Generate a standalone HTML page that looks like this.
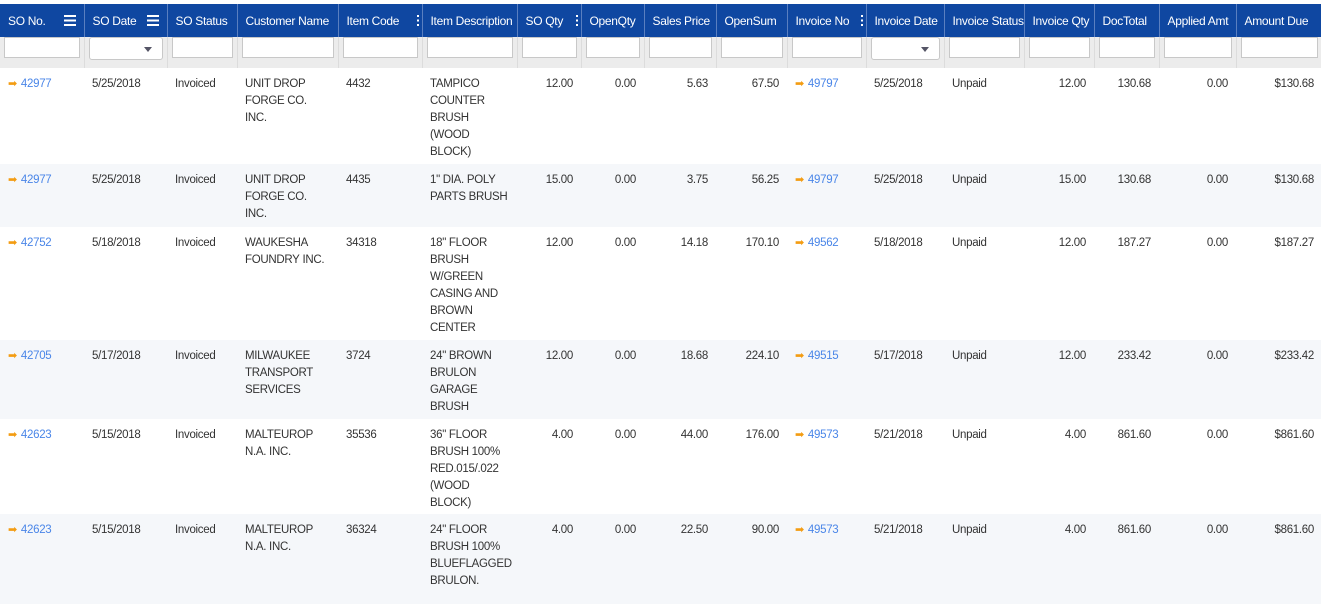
<!DOCTYPE html>
<html><head><meta charset="utf-8"><style>
body{margin:0;width:1321px;height:593px;overflow:hidden;background:#fff;font-family:"Liberation Sans",sans-serif;font-size:12px;color:#333}
table{border-collapse:collapse;table-layout:fixed;position:absolute;left:0;top:4px;width:1321px}
th{background:#0f47a1;color:#fff;font-weight:normal;height:33px;padding:0 0 0 8px;text-align:left;border-right:1px solid #5a7fc0;white-space:nowrap;overflow:hidden;position:relative;font-size:12px;letter-spacing:-0.3px}
th .ic{position:absolute;right:8px;top:11px;width:12px;height:11px;background:repeating-linear-gradient(#fff 0 2px,transparent 2px 4.5px)}
th .dots{position:absolute;right:3px;top:11px;width:2px;height:11px;background:repeating-linear-gradient(#fff 0 2px,transparent 2px 4.5px)}
tr.f td{background:#ececec;height:31px;padding:0 4px;border-right:1px solid #dcdcdc}
tr.f input{width:100%;box-sizing:border-box;height:21px;border:1px solid #c8c8c8;background:#fff;display:block}
.dd{height:21px;border:1px solid #c8c8c8;border-radius:3px;background:#fff;position:relative}
.dd:after{content:"";position:absolute;right:10px;top:9px;border:4px solid transparent;border-top:5px solid #556;border-bottom:0}
td{vertical-align:top;padding:8px 6px 0 8px;line-height:17px;overflow:hidden;font-size:11.5px;letter-spacing:-0.3px}
tr.r td{border:0}
tr.alt td{background:#f5f7fa}
td.n{text-align:right;padding-right:8px}
a{color:#4a86e8;text-decoration:none}
.ar{color:#f39c12;font-size:11px;margin-right:4px}
</style></head><body>
<table>
<colgroup><col style="width:84px"><col style="width:83px"><col style="width:70px"><col style="width:101px"><col style="width:84px"><col style="width:95px"><col style="width:64px"><col style="width:63px"><col style="width:72px"><col style="width:71px"><col style="width:79px"><col style="width:78px"><col style="width:80px"><col style="width:70px"><col style="width:65px"><col style="width:77px"><col style="width:86px"></colgroup>
<tr>
<th>SO No.<span class="ic"></span></th>
<th>SO Date<span class="ic"></span></th>
<th>SO Status</th>
<th>Customer Name</th>
<th>Item Code<span class="dots"></span></th>
<th>Item Description</th>
<th>SO Qty<span class="dots"></span></th>
<th>OpenQty</th>
<th>Sales Price</th>
<th>OpenSum</th>
<th>Invoice No<span class="dots"></span></th>
<th>Invoice Date</th>
<th>Invoice Status</th>
<th>Invoice Qty</th>
<th>DocTotal</th>
<th>Applied Amt</th>
<th>Amount Due</th>
</tr>
<tr class="f">
<td><input></td>
<td><div class="dd"></div></td>
<td><input></td>
<td><input></td>
<td><input></td>
<td><input></td>
<td><input></td>
<td><input></td>
<td><input></td>
<td><input></td>
<td><input></td>
<td><div class="dd"></div></td>
<td><input></td>
<td><input></td>
<td><input></td>
<td><input></td>
<td><input></td>
</tr>
<tr class="r" style="height:96px"><td><span class="ar">➡</span><a href="#">42977</a></td><td>5/25/2018</td><td>Invoiced</td><td>UNIT DROP<br>FORGE CO.<br>INC.</td><td>4432</td><td>TAMPICO COUNTER BRUSH (WOOD BLOCK)</td><td class="n">12.00</td><td class="n">0.00</td><td class="n">5.63</td><td class="n">67.50</td><td><span class="ar">➡</span><a href="#">49797</a></td><td>5/25/2018</td><td>Unpaid</td><td class="n">12.00</td><td class="n">130.68</td><td class="n">0.00</td><td class="n">$130.68</td></tr>
<tr class="r alt" style="height:63px"><td><span class="ar">➡</span><a href="#">42977</a></td><td>5/25/2018</td><td>Invoiced</td><td>UNIT DROP<br>FORGE CO.<br>INC.</td><td>4435</td><td>1" DIA. POLY PARTS&nbsp;BRUSH</td><td class="n">15.00</td><td class="n">0.00</td><td class="n">3.75</td><td class="n">56.25</td><td><span class="ar">➡</span><a href="#">49797</a></td><td>5/25/2018</td><td>Unpaid</td><td class="n">15.00</td><td class="n">130.68</td><td class="n">0.00</td><td class="n">$130.68</td></tr>
<tr class="r" style="height:113px"><td><span class="ar">➡</span><a href="#">42752</a></td><td>5/18/2018</td><td>Invoiced</td><td>WAUKESHA FOUNDRY&nbsp;INC.</td><td>34318</td><td>18" FLOOR BRUSH W/GREEN CASING AND BROWN CENTER</td><td class="n">12.00</td><td class="n">0.00</td><td class="n">14.18</td><td class="n">170.10</td><td><span class="ar">➡</span><a href="#">49562</a></td><td>5/18/2018</td><td>Unpaid</td><td class="n">12.00</td><td class="n">187.27</td><td class="n">0.00</td><td class="n">$187.27</td></tr>
<tr class="r alt" style="height:79px"><td><span class="ar">➡</span><a href="#">42705</a></td><td>5/17/2018</td><td>Invoiced</td><td>MILWAUKEE TRANSPORT SERVICES</td><td>3724</td><td>24" BROWN BRULON GARAGE BRUSH</td><td class="n">12.00</td><td class="n">0.00</td><td class="n">18.68</td><td class="n">224.10</td><td><span class="ar">➡</span><a href="#">49515</a></td><td>5/17/2018</td><td>Unpaid</td><td class="n">12.00</td><td class="n">233.42</td><td class="n">0.00</td><td class="n">$233.42</td></tr>
<tr class="r" style="height:95px"><td><span class="ar">➡</span><a href="#">42623</a></td><td>5/15/2018</td><td>Invoiced</td><td>MALTEUROP N.A. INC.</td><td>35536</td><td>36" FLOOR BRUSH 100% RED.015/.022 (WOOD BLOCK)</td><td class="n">4.00</td><td class="n">0.00</td><td class="n">44.00</td><td class="n">176.00</td><td><span class="ar">➡</span><a href="#">49573</a></td><td>5/21/2018</td><td>Unpaid</td><td class="n">4.00</td><td class="n">861.60</td><td class="n">0.00</td><td class="n">$861.60</td></tr>
<tr class="r alt" style="height:90px"><td><span class="ar">➡</span><a href="#">42623</a></td><td>5/15/2018</td><td>Invoiced</td><td>MALTEUROP N.A. INC.</td><td>36324</td><td>24" FLOOR BRUSH 100% BLUEFLAGGED BRULON.</td><td class="n">4.00</td><td class="n">0.00</td><td class="n">22.50</td><td class="n">90.00</td><td><span class="ar">➡</span><a href="#">49573</a></td><td>5/21/2018</td><td>Unpaid</td><td class="n">4.00</td><td class="n">861.60</td><td class="n">0.00</td><td class="n">$861.60</td></tr>
</table>
</body></html>
